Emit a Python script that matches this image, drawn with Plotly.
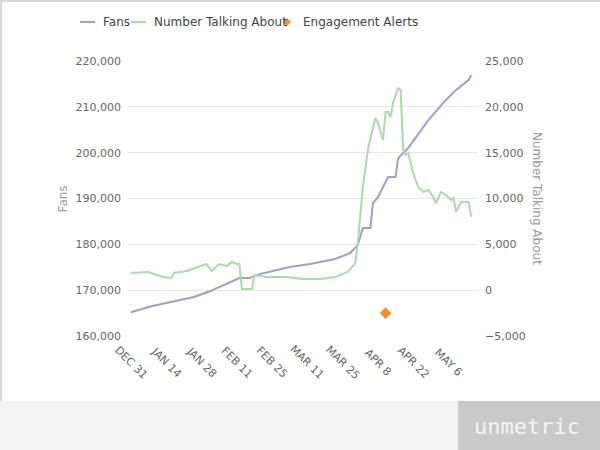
import plotly.graph_objects as go

# ---------------- data ----------------
fans_dates = ["2012-12-31", "2013-01-04", "2013-01-08", "2013-01-14", "2013-01-19",
              "2013-01-25", "2013-01-31", "2013-02-06", "2013-02-12", "2013-02-16",
              "2013-02-20", "2013-02-24", "2013-03-04", "2013-03-12", "2013-03-16",
              "2013-03-22", "2013-03-28", "2013-03-31", "2013-04-02", "2013-04-05",
              "2013-04-06", "2013-04-08", "2013-04-12", "2013-04-15", "2013-04-16",
              "2013-04-20", "2013-04-28", "2013-05-05", "2013-05-09", "2013-05-13",
              "2013-05-14", "2013-05-15"]
fans_values = [165200, 165900, 166500, 167200, 167850,
               168500, 169700, 171100, 172650, 172650,
               173500, 174000, 175050, 175700, 176150,
               176800, 178100, 179850, 183550, 183550,
               189000, 190300, 194700, 194700, 198800,
               201000, 207100, 211500, 213700, 215400,
               215850, 216950]

talk_dates = ["2012-12-31", "2013-01-07", "2013-01-09", "2013-01-13", "2013-01-16",
              "2013-01-17", "2013-01-22", "2013-01-27", "2013-01-30", "2013-02-01",
              "2013-02-04", "2013-02-07", "2013-02-09", "2013-02-11", "2013-02-12",
              "2013-02-13", "2013-02-17", "2013-02-18", "2013-02-23", "2013-03-03",
              "2013-03-09", "2013-03-16", "2013-03-22", "2013-03-27", "2013-03-30",
              "2013-03-31", "2013-04-02", "2013-04-04", "2013-04-05", "2013-04-07",
              "2013-04-08", "2013-04-10", "2013-04-11", "2013-04-12", "2013-04-13",
              "2013-04-14", "2013-04-16", "2013-04-17", "2013-04-18", "2013-04-19",
              "2013-04-20", "2013-04-22", "2013-04-24", "2013-04-26", "2013-04-28",
              "2013-04-30", "2013-05-01", "2013-05-03", "2013-05-05", "2013-05-07",
              "2013-05-08", "2013-05-09", "2013-05-11", "2013-05-14", "2013-05-15"]
talk_values = [1870, 1980, 1760, 1430, 1320,
               1870, 2090, 2530, 2850, 2090,
               2850, 2630, 3070, 2850, 2850,
               130, 130, 1650, 1430, 1430,
               1210, 1210, 1430, 1980, 2960,
               5140, 11250, 15290, 16600, 18780,
               18240, 16380, 19440, 19440, 18890,
               20420, 22050, 21840, 15290, 14740,
               14960, 12780, 11250, 10710, 10930,
               10160, 9500, 10710, 10380, 9830,
               10050, 8520, 9620, 9620, 8000]

alert_dates = ["2013-04-11"]
alert_values = [-2500]

tick_dates = ["2012-12-31", "2013-01-14", "2013-01-28", "2013-02-11", "2013-02-25",
              "2013-03-11", "2013-03-25", "2013-04-08", "2013-04-22", "2013-05-06"]
tick_labels = ["DEC 31", "JAN 14", "JAN 28", "FEB 11", "FEB 25",
               "MAR 11", "MAR 25", "APR 8", "APR 22", "MAY 6"]

series_names = ["Fans", "Number Talking About", "Engagement Alerts"]
series_colors = ["#a19dd2", "#a9dbab", "#f0922e"]

FONT = "DejaVu Sans"

fig = go.Figure()
fig.add_trace(go.Scatter(x=fans_dates, y=fans_values, name=series_names[0], mode="lines",
                         line=dict(color=series_colors[0], width=2), yaxis="y"))
fig.add_trace(go.Scatter(x=talk_dates, y=talk_values, name=series_names[1],
                         mode="lines", line=dict(color=series_colors[1], width=2), yaxis="y2"))
fig.add_trace(go.Scatter(x=alert_dates, y=alert_values, name=series_names[2],
                         mode="markers", marker=dict(symbol="diamond", size=9, color=series_colors[2]),
                         yaxis="y2"))

annotations = []
for d, t in zip(tick_dates, tick_labels):
    annotations.append(dict(x=d, y=-0.095, xref="x", yref="paper", text=t, showarrow=False,
                            textangle=45, xanchor="center", yanchor="middle",
                            font=dict(family=FONT, size=11, color="#666")))
annotations.append(dict(x=-0.186, y=0.5, xref="paper", yref="paper", text="Fans",
                        showarrow=False, textangle=-90, xanchor="center", yanchor="middle",
                        font=dict(family=FONT, size=12, color="#999")))
annotations.append(dict(x=1.17, y=0.5, xref="paper", yref="paper", text="Number Talking About",
                        showarrow=False, textangle=90, xanchor="center", yanchor="middle",
                        font=dict(family=FONT, size=12, color="#999")))
annotations.append(dict(x=1.14, y=-0.33, xref="paper", yref="paper", text="unmetric",
                        showarrow=False, xanchor="center", yanchor="middle",
                        font=dict(family="DejaVu Sans Mono", size=22, color="#f4f4f4")))

# legend drawn as text + small symbols (paper coordinates)
LEG_Y = 1.1418
legend_text_x = [-0.0771, 0.0686, 0.4943]
for nm, lx in zip(series_names, legend_text_x):
    annotations.append(dict(x=lx, y=LEG_Y, xref="paper", yref="paper", text=nm,
                            showarrow=False, xanchor="left", yanchor="middle",
                            font=dict(family=FONT, size=12, color="#444")))

shapes = [
    # footer band
    dict(type="rect", xref="paper", yref="paper", x0=-0.37, x1=1.35, y0=-0.236, y1=-0.42,
         fillcolor="#f3f3f3", line=dict(width=0), layer="below"),
    dict(type="rect", xref="paper", yref="paper", x0=0.943, x1=1.35, y0=-0.236, y1=-0.42,
         fillcolor="#c9c9c9", line=dict(width=0), layer="below"),
    # outer border (top and left)
    dict(type="line", xref="paper", yref="paper", x0=-0.3629, x1=-0.3629, y0=1.222, y1=-0.236,
         line=dict(color="#d8d8d8", width=2)),
    dict(type="line", xref="paper", yref="paper", x0=-0.3657, x1=1.35, y0=1.218, y1=1.218,
         line=dict(color="#d8d8d8", width=2)),
    # legend symbols
    dict(type="line", xref="paper", yref="paper", x0=-0.1371, x1=-0.0943, y0=LEG_Y, y1=LEG_Y,
         line=dict(color=series_colors[0], width=2)),
    dict(type="line", xref="paper", yref="paper", x0=0.00857, x1=0.0514, y0=LEG_Y, y1=LEG_Y,
         line=dict(color=series_colors[1], width=2)),
    dict(type="path", xref="paper", yref="paper",
         path=f"M {0.4543} {LEG_Y + 0.0145} L {0.4543 + 0.0114} {LEG_Y} "
              f"L {0.4543} {LEG_Y - 0.0145} L {0.4543 - 0.0114} {LEG_Y} Z",
         fillcolor=series_colors[2], line=dict(width=0)),
]

fig.update_layout(
    width=600, height=450,
    margin=dict(l=128, r=122, t=61, b=114, autoexpand=False),
    paper_bgcolor="white", plot_bgcolor="white",
    font=dict(family=FONT, size=11, color="#666"),
    showlegend=False,
    hovermode=False,
    xaxis=dict(type="date", range=["2012-12-29 19:00", "2013-05-17 17:00"],
               showticklabels=False, showgrid=False, zeroline=False,
               showline=False, ticks=""),
    yaxis=dict(range=[160000, 220000], dtick=10000, tickformat=",d",
               showgrid=True, gridcolor="#e8e8e8", gridwidth=1, zeroline=False,
               ticks="", ticklabelstandoff=6,
               tickfont=dict(family=FONT, size=11, color="#666")),
    yaxis2=dict(range=[-5000, 25000], dtick=5000, tickformat=",d", overlaying="y",
                side="right", showgrid=False, zeroline=False, ticks="",
                ticklabelstandoff=6,
                tickfont=dict(family=FONT, size=11, color="#666")),
    annotations=annotations,
    shapes=shapes,
)

fig.write_html("out.html", config={"displayModeBar": False},
               post_script="document.body.style.margin='0';document.body.style.overflow='hidden';")
